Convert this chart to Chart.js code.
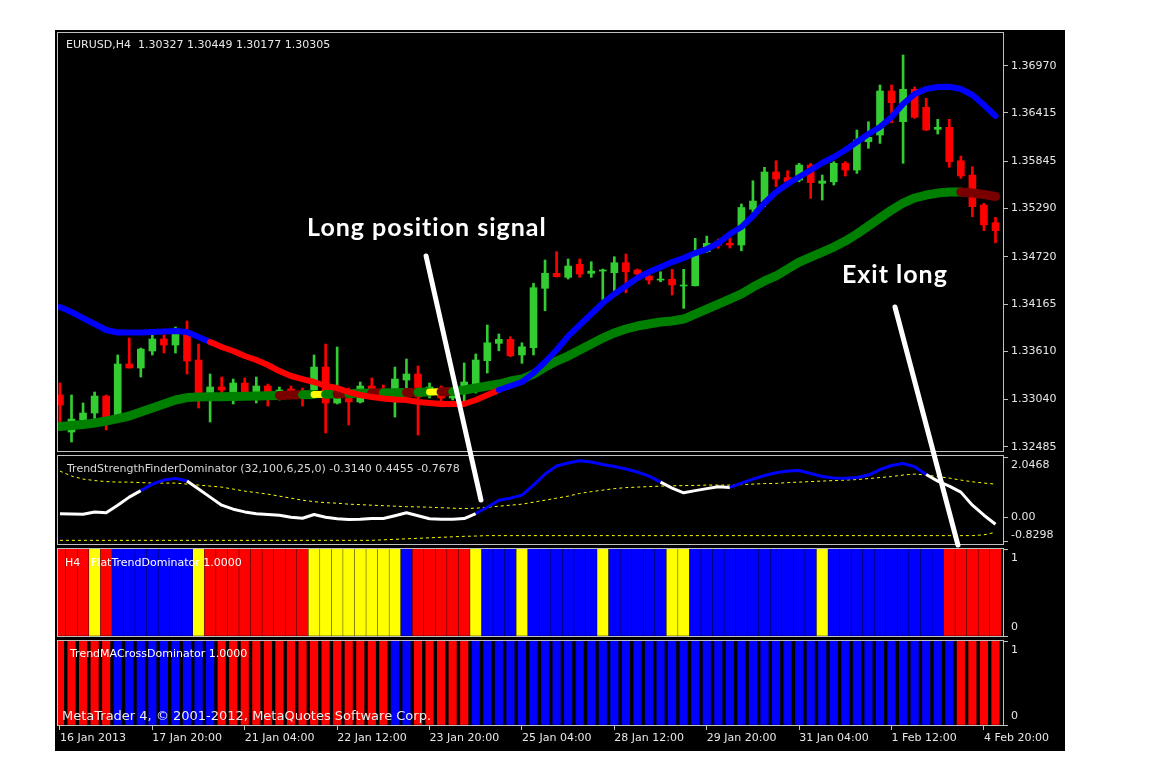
<!DOCTYPE html>
<html>
<head>
<meta charset="utf-8">
<script src="https://cdn.jsdelivr.net/npm/chart.js@4.4.0/dist/chart.umd.min.js"></script>
<style>
  html, body { margin: 0; padding: 0; background: #fff; }
  #term { position: absolute; left: 55px; top: 30px; width: 1010px; height: 721px; background: #000; }
  #term canvas { position: absolute; left: 0; }
</style>
</head>
<body>
<div id="term">
  <canvas id="ind1" width="1010" height="92" style="top:424px"></canvas>
  <canvas id="ind2" width="1010" height="91" style="top:517px"></canvas>
  <canvas id="ind3" width="1010" height="112" style="top:609px"></canvas>
  <canvas id="main" width="1010" height="721" style="top:0"></canvas>
</div>
<script>
// EURUSD H4, 82 bars, 16 Jan 2013 12:00 .. 4 Feb 2013
const xLabels = ["16 Jan 2013", "17 Jan 20:00", "21 Jan 04:00", "22 Jan 12:00", "23 Jan 20:00",
  "25 Jan 04:00", "28 Jan 12:00", "29 Jan 20:00", "31 Jan 04:00", "1 Feb 12:00", "4 Feb 20:00"];
const xLabelEvery = 8;
const priceTicks = [1.36970, 1.36415, 1.35845, 1.35290, 1.34720, 1.34165, 1.33610, 1.33040, 1.32485];

const openP = [1.33094, 1.32658, 1.32800, 1.32882, 1.33082, 1.32835, 1.33459, 1.33412, 1.33612, 1.33753,
  1.33682, 1.33812, 1.33506, 1.33106, 1.33188, 1.33129, 1.33235, 1.33129, 1.33200, 1.33117,
  1.33165, 1.33141, 1.33153, 1.33423, 1.33000, 1.33117, 1.33012, 1.33200, 1.33153, 1.33165,
  1.33270, 1.33341, 1.33094, 1.33176, 1.33059, 1.33188, 1.33188, 1.33498, 1.33702, 1.33749,
  1.33565, 1.33651, 1.34350, 1.34526, 1.34479, 1.34632, 1.34526, 1.34553, 1.34533, 1.34651,
  1.34565, 1.34495, 1.34447, 1.34456, 1.34377, 1.34380, 1.34781, 1.34898, 1.34879, 1.34859,
  1.35280, 1.35369, 1.35719, 1.35652, 1.35624, 1.35801, 1.35586, 1.35604, 1.35821, 1.35742,
  1.36075, 1.36154, 1.36672, 1.36311, 1.36692, 1.36480, 1.36221, 1.36245, 1.35852, 1.35683,
  1.35330, 1.35122];
const highP = [1.33235, 1.33094, 1.33000, 1.33129, 1.33094, 1.33565, 1.33765, 1.33647, 1.33859, 1.33800,
  1.33894, 1.33965, 1.33694, 1.33341, 1.33306, 1.33282, 1.33294, 1.33306, 1.33223, 1.33188,
  1.33200, 1.33176, 1.33565, 1.33694, 1.33659, 1.33176, 1.33247, 1.33294, 1.33212, 1.33423,
  1.33518, 1.33435, 1.33235, 1.33200, 1.33176, 1.33471, 1.33577, 1.33918, 1.33812, 1.33780,
  1.33709, 1.34409, 1.34683, 1.34781, 1.34695, 1.34695, 1.34663, 1.34577, 1.34722, 1.34753,
  1.34577, 1.34518, 1.34545, 1.34573, 1.34573, 1.34938, 1.34965, 1.34930, 1.34942, 1.35342,
  1.35616, 1.35774, 1.35852, 1.35734, 1.35821, 1.35821, 1.35683, 1.35840, 1.35840, 1.36213,
  1.36311, 1.36743, 1.36743, 1.37096, 1.36719, 1.36586, 1.36339, 1.36339, 1.35907, 1.35781,
  1.35350, 1.35185];
const lowP = [1.32682, 1.32541, 1.32788, 1.32800, 1.32682, 1.32823, 1.33412, 1.33306, 1.33565, 1.33588,
  1.33588, 1.33341, 1.32941, 1.32776, 1.33106, 1.32988, 1.33094, 1.33000, 1.32964, 1.33035,
  1.33059, 1.32964, 1.33070, 1.32647, 1.32988, 1.32741, 1.33000, 1.33059, 1.33059, 1.32835,
  1.33129, 1.32623, 1.33059, 1.32976, 1.33035, 1.32976, 1.33117, 1.33353, 1.33615, 1.33545,
  1.33467, 1.33565, 1.34086, 1.34483, 1.34459, 1.34479, 1.34479, 1.34212, 1.34291, 1.34298,
  1.34495, 1.34400, 1.34427, 1.34271, 1.34114, 1.34377, 1.34773, 1.34821, 1.34824, 1.34792,
  1.35233, 1.35310, 1.35546, 1.35586, 1.35604, 1.35409, 1.35389, 1.35566, 1.35672, 1.35703,
  1.35998, 1.36056, 1.36299, 1.35821, 1.36351, 1.36207, 1.36166, 1.35774, 1.35644, 1.35192,
  1.35028, 1.34886];
const closeP = [1.32976, 1.32811, 1.32882, 1.33082, 1.32823, 1.33459, 1.33412, 1.33635, 1.33753, 1.33682,
  1.33812, 1.33494, 1.33106, 1.33188, 1.33153, 1.33235, 1.33129, 1.33200, 1.33129, 1.33153,
  1.33117, 1.33106, 1.33423, 1.33000, 1.33094, 1.33012, 1.33200, 1.33117, 1.33106, 1.33282,
  1.33341, 1.33070, 1.33188, 1.33059, 1.33117, 1.33247, 1.33506, 1.33709, 1.33749, 1.33556,
  1.33662, 1.34357, 1.34526, 1.34486, 1.34612, 1.34518, 1.34553, 1.34565, 1.34651, 1.34545,
  1.34518, 1.34447, 1.34459, 1.34389, 1.34389, 1.34753, 1.34879, 1.34859, 1.34859, 1.35301,
  1.35377, 1.35719, 1.35636, 1.35604, 1.35801, 1.35593, 1.35613, 1.35821, 1.35742, 1.36095,
  1.36127, 1.36672, 1.36534, 1.36692, 1.36362, 1.36213, 1.36245, 1.35840, 1.35672, 1.35310,
  1.35095, 1.35028];

// moving averages on the price chart
const fastMA = [1.34130, 1.34071, 1.34000, 1.33930, 1.33859, 1.33830, 1.33830, 1.33830, 1.33835, 1.33841,
  1.33847, 1.33835, 1.33777, 1.33718, 1.33659, 1.33612, 1.33553, 1.33506, 1.33447, 1.33376,
  1.33318, 1.33282, 1.33247, 1.33200, 1.33176, 1.33129, 1.33094, 1.33070, 1.33053, 1.33041,
  1.33035, 1.33012, 1.33000, 1.32988, 1.32988, 1.32988, 1.33035, 1.33094, 1.33153, 1.33200,
  1.33247, 1.33353, 1.33482, 1.33624, 1.33788, 1.33918, 1.34047, 1.34177, 1.34283, 1.34377,
  1.34471, 1.34542, 1.34600, 1.34659, 1.34706, 1.34765, 1.34812, 1.34883, 1.34989, 1.35071,
  1.35201, 1.35354, 1.35483, 1.35577, 1.35660, 1.35742, 1.35825, 1.35895, 1.35978, 1.36072,
  1.36166, 1.36248, 1.36366, 1.36519, 1.36637, 1.36696, 1.36719, 1.36722, 1.36696, 1.36625,
  1.36507, 1.36378];
const slowMA = [1.32723, 1.32735, 1.32747, 1.32764, 1.32788, 1.32817, 1.32847, 1.32894, 1.32941, 1.32988,
  1.33035, 1.33064, 1.33070, 1.33073, 1.33075, 1.33077, 1.33080, 1.33082, 1.33086, 1.33089,
  1.33093, 1.33096, 1.33100, 1.33103, 1.33107, 1.33110, 1.33114, 1.33117, 1.33120, 1.33122,
  1.33124, 1.33127, 1.33129, 1.33131, 1.33134, 1.33153, 1.33176, 1.33200, 1.33223, 1.33259,
  1.33282, 1.33341, 1.33423, 1.33494, 1.33553, 1.33624, 1.33694, 1.33765, 1.33824, 1.33871,
  1.33906, 1.33930, 1.33953, 1.33965, 1.33988, 1.34047, 1.34106, 1.34165, 1.34224, 1.34283,
  1.34365, 1.34436, 1.34495, 1.34577, 1.34659, 1.34718, 1.34777, 1.34836, 1.34906, 1.34989,
  1.35083, 1.35177, 1.35271, 1.35354, 1.35413, 1.35448, 1.35471, 1.35483, 1.35483, 1.35471,
  1.35454, 1.35430];
const fastRuns = [["B", 13], ["R", 25], ["B", 44]];
const slowRuns = [["G", 19], ["D", 2], ["G", 1], ["Y", 1], ["G", 1], ["D", 1], ["G", 2], ["D", 1],
  ["G", 2], ["D", 1], ["G", 1], ["Y", 1], ["D", 1], ["G", 44], ["D", 4]];

// TrendStrengthFinderDominator
const tsfLine = [0.131, 0.121, 0.114, 0.193, 0.166, 0.424, 0.701, 0.925, 1.149, 1.287,
  1.346, 1.253, 0.977, 0.701, 0.424, 0.286, 0.193, 0.131, 0.103, 0.079,
  0.010, -0.024, 0.103, 0.010, -0.042, -0.069, -0.059, -0.035, -0.035, 0.062,
  0.166, 0.062, -0.042, -0.059, -0.059, -0.035, 0.138, 0.355, 0.597, 0.666,
  0.770, 1.115, 1.494, 1.771, 1.874, 1.954, 1.909, 1.822, 1.753, 1.667,
  1.564, 1.425, 1.218, 1.011, 0.849, 0.925, 0.994, 1.056, 1.035, 1.184,
  1.322, 1.443, 1.539, 1.598, 1.615, 1.512, 1.408, 1.356, 1.346, 1.374,
  1.460, 1.650, 1.788, 1.857, 1.746, 1.477, 1.253, 1.080, 0.873, 0.424,
  0.079, -0.232];
const tsfUpper = [1.598, 1.425, 1.322, 1.270, 1.236, 1.218, 1.218, 1.201, 1.184, 1.184,
  1.184, 1.149, 1.115, 1.080, 1.046, 0.977, 0.908, 0.856, 0.804, 0.735,
  0.666, 0.597, 0.545, 0.511, 0.493, 0.459, 0.442, 0.424, 0.407, 0.390,
  0.373, 0.366, 0.355, 0.338, 0.321, 0.310, 0.321, 0.355, 0.390, 0.424,
  0.459, 0.528, 0.597, 0.666, 0.735, 0.828, 0.890, 0.942, 0.994, 1.028,
  1.046, 1.063, 1.080, 1.091, 1.097, 1.104, 1.115, 1.115, 1.115, 1.132,
  1.149, 1.167, 1.173, 1.201, 1.218, 1.236, 1.253, 1.270, 1.287, 1.305,
  1.339, 1.374, 1.408, 1.460, 1.494, 1.460, 1.408, 1.356, 1.287, 1.229,
  1.184, 1.149];
const tsfLower = [-0.784, -0.784, -0.784, -0.784, -0.784, -0.784, -0.784, -0.784, -0.784, -0.784,
  -0.784, -0.784, -0.784, -0.784, -0.784, -0.784, -0.784, -0.784, -0.784, -0.784,
  -0.784, -0.784, -0.784, -0.784, -0.784, -0.784, -0.784, -0.784, -0.767, -0.749,
  -0.732, -0.715, -0.697, -0.680, -0.663, -0.646, -0.636, -0.622, -0.622, -0.622,
  -0.622, -0.622, -0.622, -0.622, -0.622, -0.622, -0.622, -0.622, -0.622, -0.622,
  -0.622, -0.622, -0.622, -0.622, -0.622, -0.622, -0.622, -0.622, -0.622, -0.622,
  -0.622, -0.622, -0.622, -0.622, -0.622, -0.622, -0.622, -0.622, -0.622, -0.622,
  -0.622, -0.622, -0.622, -0.622, -0.622, -0.622, -0.622, -0.622, -0.622, -0.622,
  -0.594, -0.508];
const tsfRuns = [["W", 7], ["B", 4], ["W", 25], ["B", 16], ["W", 6], ["B", 17], ["W", 7]];
const tsfTicks = [2.0468, 0, -0.8298];
const tsfTickText = ["2.0468", "0.00", "-0.8298"];

// FlatTrendDominator / TrendMACrossDominator histograms (value 1, coloured by state)
const flatRuns = [["R", 3], ["Y", 1], ["R", 1], ["B", 7], ["Y", 1], ["R", 9], ["Y", 8], ["B", 1], ["R", 5],
  ["Y", 1], ["B", 3], ["Y", 1], ["B", 6], ["Y", 1], ["B", 5], ["Y", 2], ["B", 11], ["Y", 1], ["B", 10], ["R", 5]];
const crossRuns = [["R", 5], ["B", 9], ["R", 15], ["B", 2], ["R", 5], ["B", 42], ["R", 4]];

// hand-drawn notes on the screenshot, in (bar, price) units
const noteLines = [[31.7, 1.34730, 36.45, 1.31858], [72.3, 1.34130, 77.75, 1.31328]];
const noteTexts = [["Long position signal", 31.77, 1.35059], ["Exit long", 72.29, 1.34506]];

const COLORS = { B: "#0000ff", R: "#ff0000", Y: "#ffff00", G: "#008000", D: "#7a0000", W: "#ffffff" };
const BULL = "#33cc33", BEAR = "#ff0000";
const X_MIN = -0.17, X_MAX = 81.65;
const FONT = "DejaVu Sans";
const LABEL = "#e6e6e6";

function expand(runs) {
  const out = [];
  runs.forEach(([c, n]) => { for (let k = 0; k < n; k++) out.push(c); });
  return out;
}
const fastState = expand(fastRuns);
const slowState = expand(slowRuns);
const tsfState = expand(tsfRuns);
const flatState = expand(flatRuns);
const crossState = expand(crossRuns);
const pts = arr => arr.map((v, i) => ({ x: i, y: v }));

Chart.defaults.font.family = FONT;
Chart.defaults.animation = false;

function xScale(show) {
  return {
    type: "linear", min: X_MIN, max: X_MAX, offset: false, display: show,
    grid: { drawOnChartArea: false, drawTicks: true, tickLength: 5, color: "#c0c0c0", offset: false },
    border: { display: false },
    afterBuildTicks: s => { s.ticks = xLabels.map((_, k) => ({ value: k * xLabelEvery })); },
    afterFit: s => { s.height = show ? 26 : 0; s.paddingLeft = 0; s.paddingRight = 0; },
    ticks: {
      autoSkip: false, maxRotation: 0, minRotation: 0, align: "start", padding: 2,
      color: LABEL, font: { family: FONT, size: 11 },
      callback: v => xLabels[Math.round(v / xLabelEvery)]
    }
  };
}
function yScale(min, max, tickVals, showLabels) {
  return {
    type: "linear", position: "right", min: min, max: max,
    grid: { drawOnChartArea: false, drawTicks: true, tickLength: 5, color: "#c0c0c0" },
    border: { display: false },
    afterBuildTicks: s => { s.ticks = tickVals.map(v => ({ value: v })); },
    afterFit: s => { s.width = 62; s.paddingTop = 0; s.paddingBottom = 0; },
    ticks: { display: showLabels, padding: 3, color: LABEL, font: { family: FONT, size: 11 },
      callback: v => v.toFixed(5) }
  };
}

const frame = {
  id: "frame",
  afterDraw(chart) {
    const { ctx, chartArea: a } = chart;
    ctx.save();
    ctx.strokeStyle = "#c0c0c0";
    ctx.lineWidth = 1;
    ctx.strokeRect(a.left - 0.5, a.top - 0.5, a.right - a.left + 1, a.bottom - a.top + 1);
    ctx.restore();
  }
};
const captions = {
  id: "captions",
  afterDatasetsDraw(chart, args, opts) {
    const { ctx, chartArea: a } = chart;
    ctx.save();
    ctx.textBaseline = "middle";
    ctx.textAlign = "left";
    (opts.items || []).forEach(([t, dx, dy, size, color]) => {
      ctx.font = size + "px \"" + FONT + "\"";
      ctx.fillStyle = color;
      ctx.fillText(t, a.left + dx, a.top + dy);
    });
    ctx.restore();
  }
};
const sideLabels = {
  id: "sideLabels",
  afterDraw(chart, args, opts) {
    if (!opts.values) return;
    const { ctx, chartArea: a } = chart, s = chart.scales.y;
    ctx.save();
    ctx.font = "11px \"" + FONT + "\"";
    ctx.fillStyle = LABEL;
    ctx.textBaseline = "middle";
    ctx.textAlign = "left";
    opts.values.forEach((v, k) => {
      const y = Math.min(Math.max(s.getPixelForValue(v), a.top + 9.5), a.bottom - 8.5);
      ctx.fillText(opts.texts[k], a.right + 8, y);
    });
    ctx.restore();
  }
};
const notes = {
  id: "notes",
  afterDraw(chart) {
    const { ctx } = chart, sx = chart.scales.x, sy = chart.scales.y;
    ctx.save();
    ctx.strokeStyle = "#ffffff";
    ctx.lineWidth = 5;
    ctx.lineCap = "round";
    noteLines.forEach(([x0, y0, x1, y1]) => {
      ctx.beginPath();
      ctx.moveTo(sx.getPixelForValue(x0), sy.getPixelForValue(y0));
      ctx.lineTo(sx.getPixelForValue(x1), sy.getPixelForValue(y1));
      ctx.stroke();
    });
    ctx.font = "bold 25px Lato";
    ctx.letterSpacing = "1px";
    ctx.fillStyle = "#ffffff";
    ctx.textAlign = "center";
    ctx.textBaseline = "middle";
    noteTexts.forEach(([t, x, y]) => ctx.fillText(t, sx.getPixelForValue(x), sy.getPixelForValue(y)));
    ctx.restore();
  }
};

function baseOptions(pad, showX, yCfg, plugOpts) {
  return {
    responsive: false, devicePixelRatio: 1, events: [],
    layout: { autoPadding: false, padding: Object.assign({ left: 3, right: 0 }, pad) },
    scales: { x: xScale(showX), y: yCfg },
    plugins: Object.assign({ legend: { display: false }, tooltip: { enabled: false } }, plugOpts)
  };
}

// price chart
const candleColor = i => closeP[i] >= openP[i] ? BULL : BEAR;
new Chart(document.getElementById("main"), {
  type: "line",
  data: {
    datasets: [
      {
        type: "line", data: pts(fastMA), order: 1, borderWidth: 6, pointRadius: 0, clip: 0,
        borderJoinStyle: "round", borderCapStyle: "round",
        segment: { borderColor: c => COLORS[fastState[c.p0DataIndex]] }
      },
      {
        type: "line", data: pts(slowMA), order: 2, borderWidth: 9, pointRadius: 0, clip: 0,
        borderJoinStyle: "round", borderCapStyle: "round",
        segment: {
          borderColor: c => COLORS[slowState[c.p0DataIndex]],
          borderWidth: c => slowState[c.p0DataIndex] === "Y" ? 7 : 9
        }
      },
      {
        type: "bar", order: 3, grouped: false, barThickness: 7, minBarLength: 1, borderWidth: 0, clip: 0,
        data: openP.map((o, i) => ({ x: i, y: [o, closeP[i]] })),
        backgroundColor: openP.map((_, i) => candleColor(i))
      },
      {
        type: "bar", order: 4, grouped: false, barThickness: 2, borderWidth: 0, clip: 0,
        data: lowP.map((l, i) => ({ x: i, y: [l, highP[i]] })),
        backgroundColor: openP.map((_, i) => candleColor(i))
      }
    ]
  },
  options: baseOptions({ top: 3, bottom: 300 }, false, yScale(1.32435, 1.37355, priceTicks, true), {
    captions: { items: [["EURUSD,H4  1.30327 1.30449 1.30177 1.30305", 8, 12, 11, "#e8e8e8"]] }
  }),
  plugins: [captions, frame, notes]
});

// TrendStrengthFinderDominator
new Chart(document.getElementById("ind1"), {
  type: "line",
  data: {
    datasets: [
      {
        data: pts(tsfLine), order: 1, borderWidth: 3, pointRadius: 0, clip: 0, borderJoinStyle: "round",
        segment: { borderColor: c => COLORS[tsfState[c.p0DataIndex]] }
      },
      { data: pts(tsfUpper), order: 2, borderWidth: 1, borderDash: [3, 3], borderColor: "#ffff00", pointRadius: 0, clip: 0 },
      { data: pts(tsfLower), order: 3, borderWidth: 1, borderDash: [3, 3], borderColor: "#ffff00", pointRadius: 0, clip: 0 }
    ]
  },
  options: baseOptions({ top: 2, bottom: 2 }, false, yScale(-0.91, 2.115, tsfTicks, false), {
    captions: { items: [["TrendStrengthFinderDominator (32,100,6,25,0) -0.3140 0.4455 -0.7678", 9, 13, 11, "#d8d8d8"]] },
    sideLabels: { values: tsfTicks, texts: tsfTickText }
  }),
  plugins: [captions, frame, sideLabels]
});

// FlatTrendDominator
new Chart(document.getElementById("ind2"), {
  type: "line",
  data: {
    datasets: [{
      type: "bar", grouped: false, barThickness: 10.5, borderWidth: 0, clip: 0,
      data: flatState.map((_, i) => ({ x: i, y: 1 })),
      backgroundColor: flatState.map(c => COLORS[c])
    }]
  },
  options: baseOptions({ top: 2, bottom: 2 }, false, yScale(0, 1, [1, 0], false), {
    captions: { items: [["H4", 7, 14, 11, "#ffffff"], ["FlatTrendDominator 1.0000", 33, 14, 11, "#ffffff"]] },
    sideLabels: { values: [1, 0], texts: ["1", "0"] }
  }),
  plugins: [captions, frame, sideLabels]
});

// TrendMACrossDominator
new Chart(document.getElementById("ind3"), {
  type: "line",
  data: {
    datasets: [{
      type: "bar", grouped: false, barThickness: 7.5, borderWidth: 0, clip: 0,
      data: crossState.map((_, i) => ({ x: i, y: 1 })),
      backgroundColor: crossState.map(c => COLORS[c])
    }]
  },
  options: baseOptions({ top: 2, bottom: 0 }, true, yScale(0, 1, [1, 0], false), {
    captions: { items: [["TrendMACrossDominator 1.0000", 12, 13.5, 11, "#ffffff"],
      ["MetaTrader 4, \u00a9 2001-2012, MetaQuotes Software Corp.", 4, 76, 13, "#ececec"]] },
    sideLabels: { values: [1, 0], texts: ["1", "0"] }
  }),
  plugins: [captions, frame, sideLabels]
});
</script>
</body>
</html>
